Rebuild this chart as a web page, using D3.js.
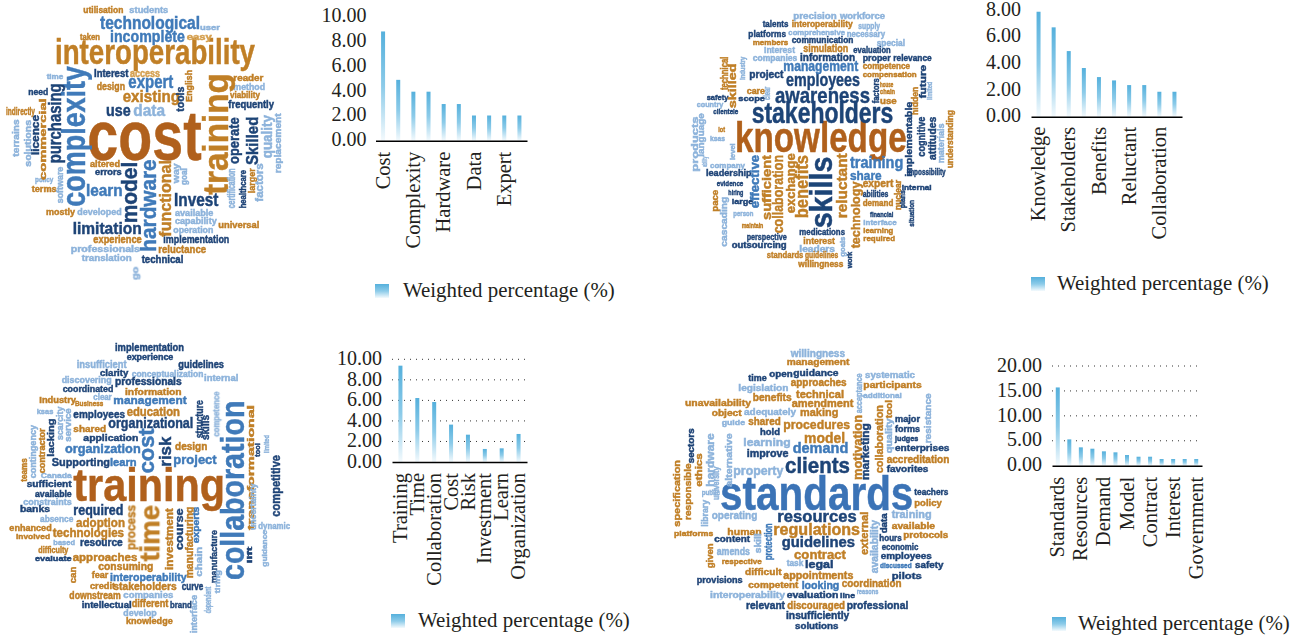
<!DOCTYPE html>
<html>
<head>
<meta charset="utf-8">
<script src="https://cdnjs.cloudflare.com/ajax/libs/d3/7.8.5/d3.min.js"></script>
<style>
  html, body { margin: 0; padding: 0; background: #fff; }
  svg { display: block; }
  .tick text, .legend { font-family: "Liberation Serif", serif; fill: #231f20; }
  .word { font-family: "Liberation Sans Narrow", "Liberation Sans", sans-serif; font-weight: bold; }
</style>
</head>
<body>
<svg width="1303" height="637"></svg>
<script>
// bar chart values
const costCategories = ['Cost', 'Interoperability', 'Complexity', 'Training', 'Hardware', 'Model', 'Data', 'Existing', 'Expert', 'Functional'];
const costValues = [8.76, 4.88, 3.93, 3.93, 2.94, 2.94, 2.02, 2.02, 2.02, 2.02];
const costTicks = [0, 2, 4, 6, 8, 10];

const knowledgeCategories = ['Knowledge', 'Skills', 'Stakeholders', 'Awareness', 'Benefits', 'Employees', 'Reluctant', 'Management', 'Collaboration', 'Technology'];
const knowledgeValues = [7.87, 6.7, 4.92, 3.65, 2.97, 2.72, 2.37, 2.37, 1.87, 1.87];
const knowledgeTicks = [0, 2, 4, 6, 8];

const trainingCategories = ['Training', 'Time', 'Collaboration', 'Cost', 'Risk', 'Investment', 'Learn', 'Organization'];
const trainingValues = [9.38, 6.23, 5.84, 3.64, 2.66, 1.27, 1.33, 2.73];
const trainingTicks = [0, 2, 4, 6, 8, 10];

const standardsCategories = ['Standards', 'Clients', 'Resources', 'Regulations', 'Demand', 'Guidelines', 'Model', 'Procedures', 'Contract', 'Motivation', 'Interest', 'Property', 'Government'];
const standardsValues = [15.7, 5.28, 3.68, 3.41, 2.88, 2.68, 2.14, 1.8, 1.8, 1.34, 1.34, 1.34, 1.34];
const standardsTicks = [0, 5, 10, 15, 20];

// word clouds: [word, weight]
const costWords = [['cost',210],['interoperability',100],['technological',50],['incomplete',45],['utilisation',24],['students',24],['taken',22],['user',20],['easy',22],['Interest',26],['access',26],['design',26],['expert',50],['existing',48],['use',46],['data',46],['need',24],['time',20],['indirectly',26],['altered',24],['errors',22],['learn',46],['Invest',50],['mostly',24],['developed',24],['limitation',48],['experience',26],['professionals',24],['translation',24],['technical',26],['reluctance',26],['implementation',28],['universal',24],['available',22],['capability',22],['operation',22],['terms',22],['policy',20],['reader',22],['method',24],['viability',22],['frequently',26],['complexity',95],['training',105],['purchasing',50],['model',62],['hardware',62],['functional',45],['operate',40],['Skilled',48],['quality',40],['replacement',22],['licence',30],['commercial',24],['terrains',22],['solutions',22],['software',22],['way',24],['goal',22],['English',24],['tools',26],['certification',26],['healthcare',24],['larger',22],['factors',26],['go',22]];
const knowledgeWords = [['knowledge',125],['stakeholders',85],['awareness',65],['employees',50],['management',42],['information',26],['simulation',30],['communication',22],['precision',22],['workforce',22],['talents',22],['interoperability',22],['supply',22],['platforms',24],['comprehensive',20],['necessary',22],['members',20],['special',22],['Interest',24],['evaluation',22],['companies',22],['proper',22],['relevance',22],['competence',22],['compensation',20],['project',26],['care',22],['scope',20],['safety',20],['country',20],['clientele',20],['house',18],['chain',18],['use',22],['training',46],['share',36],['expert',28],['abilities',22],['demand',22],['financial',20],['interface',20],['learning',20],['required',20],['internal',20],['impossibility',22],['company',20],['leadership',24],['evidence',20],['hiring',20],['large',20],['person',18],['maintain',18],['perspective',24],['outsourcing',22],['interest',24],['medications',24],['leaders',22],['standards',24],['guidelines',24],['willingness',22],['lot',18],['ksas',18],['skills',92],['benefits',50],['reluctant',38],['sufficient',36],['collaboration',38],['exchange',32],['effective',32],['technology',36],['technical',26],['skilled',30],['industry',18],['clear',22],['future',24],['hidden',24],['implementable',24],['factors',22],['cognitive',30],['attitudes',26],['understanding',22],['limited',20],['materials',24],['language',22],['products',24],['level',20],['ability',18],['pace',22],['cascading',24],['nuclear',22],['situation',20],['plans',20],['work',18],['goals',18]];
const trainingWords = [['training',135],['collaboration',95],['time',80],['cost',60],['risk',48],['organizational',40],['employees',30],['education',32],['information',24],['management',30],['application',24],['organization',34],['learn',30],['project',36],['Supporting',30],['shared',24],['design',26],['required',38],['adoption',36],['technologies',32],['resource',26],['approaches',30],['consuming',26],['interoperability',30],['stakeholders',28],['credit',24],['fear',24],['downstream',26],['companies',24],['intellectual',24],['different',26],['brand',24],['develop',24],['knowledge',24],['curve',26],['implementation',28],['experience',22],['guidelines',26],['insufficient',26],['clarity',24],['conceptualization',22],['internal',22],['discovering',22],['professionals',26],['coordinated',24],['clear',22],['Industry',22],['Business',20],['ksas',20],['dynamic',22],['enhanced',24],['involved',20],['absence',24],['based',20],['difficulty',22],['evaluate',20],['sufficient',24],['available',22],['constraints',22],['banks',24],['Canada',20],['process',34],['investment',30],['structure',30],['skills',26],['competence',24],['lacking',24],['scarcity',24],['service',22],['contingency',22],['contractor',22],['teams',24],['course',30],['manufacturing',26],['experts',24],['chain',22],['manufacture',24],['tiring',20],['transformational',24],['tool',20],['limited',20],['competitive',34],['uncertainty',22],['guidance',20],['lift',20],['interface',22],['dependent',22],['can',24]];
const standardsWords = [['standards',140],['clients',60],['resources',46],['regulations',44],['guidelines',42],['contract',36],['demand',42],['model',42],['procedures',36],['making',30],['amendment',28],['technical',30],['approaches',26],['guidance',24],['willingness',26],['management',24],['time',22],['open',22],['legislation',24],['benefits',26],['unavailability',24],['object',24],['adequately',24],['guide',20],['shared',26],['hold',24],['learning',28],['improve',26],['property',32],['public',20],['operating',28],['human',24],['content',24],['platforms',20],['amends',26],['respective',20],['difficult',24],['provisions',24],['competent',24],['appointments',26],['legal',26],['task',22],['looking',26],['coordination',28],['interoperability',24],['evaluation',24],['line',20],['reasons',20],['relevant',26],['discouraged',26],['professional',28],['insufficiently',26],['solutions',24],['systematic',24],['participants',24],['additional',20],['major',22],['forms',22],['judges',20],['enterprises',24],['accreditation',26],['favorites',24],['teachers',24],['policy',24],['training',26],['available',22],['protocols',22],['hours',22],['economic',24],['employees',24],['discussed',20],['safety',24],['pilots',24],['motivation',34],['marketing',28],['collaboration',28],['acceptance',24],['tool',24],['quality',22],['resistance',24],['sectors',22],['ethics',22],['responsible',24],['specification',24],['hardware',26],['alternative',24],['library',22],['protection',30],['skill',24],['given',24],['external',30],['availability',26],['data',22],['university',22]];

// hand placement of the words in zoomed picture units: word: [start, end, cross, vertical, colour]
const costPlaces = {cost:[262,605,425,0,'a'],interoperability:[165,765,165,0,'o'],technological:[300,600,72,0,'b'],incomplete:[330,555,113,0,'b'],utilisation:[250,370,33,0,'o'],students:[388,505,33,0,'l'],taken:[240,300,113,0,'o'],user:[600,660,85,0,'l'],easy:[560,635,112,0,'p'],Interest:[282,385,222,0,'n'],access:[390,480,222,0,'p'],design:[290,375,262,0,'o'],expert:[385,520,250,0,'b'],existing:[368,540,293,0,'o'],use:[318,392,335,0,'n'],data:[400,495,335,0,'l'],need:[85,145,277,0,'n'],time:[140,190,230,0,'l'],indirectly:[18,105,337,0,'o'],altered:[270,360,495,0,'o'],errors:[285,365,518,0,'n'],learn:[258,368,575,0,'b'],Invest:[522,655,605,0,'n'],mostly:[138,225,637,0,'o'],developed:[232,365,637,0,'l'],limitation:[218,425,687,0,'n'],experience:[280,425,722,0,'o'],professionals:[212,420,750,0,'l'],translation:[245,395,777,0,'l'],technical:[425,550,782,0,'n'],reluctance:[475,618,752,0,'o'],implementation:[490,688,720,0,'n'],universal:[655,778,676,0,'o'],available:[525,640,640,0,'l'],capability:[525,650,665,0,'l'],operation:[520,640,692,0,'l'],terms:[95,170,568,0,'o'],policy:[105,160,540,0,'l'],reader:[700,790,235,0,'o'],method:[700,795,262,0,'l'],viability:[690,780,287,0,'o'],frequently:[685,822,316,0,'n'],complexity:[198,620,228,1,'b'],training:[220,585,655,1,'o'],purchasing:[250,490,170,1,'n'],model:[485,670,395,1,'n'],hardware:[478,755,450,1,'b'],functional:[480,710,500,1,'o'],operate:[352,492,705,1,'n'],Skilled:[350,495,760,1,'n'],quality:[345,475,805,1,'l'],replacement:[340,520,835,1,'l'],licence:[345,465,108,1,'n'],commercial:[295,540,130,1,'o'],terrains:[358,470,50,1,'l'],solutions:[360,500,85,1,'l'],software:[500,610,182,1,'l'],way:[490,550,530,1,'l'],goal:[505,555,555,1,'l'],English:[210,305,570,1,'o'],tools:[260,335,545,1,'n'],certification:[505,625,697,1,'l'],healthcare:[510,625,732,1,'n'],larger:[505,580,757,1,'o'],factors:[490,605,780,1,'l'],go:[800,840,407,1,'l']};
const knowledgePlaces = {knowledge:[165,680,422,0,'a'],stakeholders:[215,640,347,0,'n'],awareness:[285,570,290,0,'n'],employees:[318,540,243,0,'n'],management:[310,535,200,0,'b'],information:[360,525,175,0,'n'],simulation:[370,505,147,0,'o'],communication:[335,520,122,0,'n'],precision:[340,470,50,0,'l'],workforce:[480,615,50,0,'l'],talents:[248,325,75,0,'n'],interoperability:[335,518,75,0,'o'],supply:[535,600,80,0,'l'],platforms:[205,318,103,0,'n'],comprehensive:[325,495,100,0,'l'],necessary:[500,615,103,0,'l'],members:[218,325,128,0,'o'],special:[590,675,130,0,'l'],Interest:[252,345,153,0,'l'],evaluation:[520,632,153,0,'n'],companies:[218,352,177,0,'l'],proper:[548,632,177,0,'n'],relevance:[640,755,177,0,'n'],competence:[548,690,201,0,'o'],compensation:[548,710,226,0,'o'],project:[208,310,227,0,'n'],care:[200,255,275,0,'o'],scope:[175,255,297,0,'n'],safety:[80,145,295,0,'n'],country:[50,130,316,0,'l'],clientele:[100,175,337,0,'n'],house:[600,640,255,0,'o'],chain:[600,645,277,0,'o'],use:[600,650,305,0,'o'],training:[510,670,492,0,'b'],share:[510,605,530,0,'b'],expert:[548,640,553,0,'o'],abilities:[548,625,585,0,'n'],demand:[548,640,612,0,'o'],financial:[570,640,645,0,'n'],interface:[550,650,668,0,'l'],learning:[550,640,692,0,'o'],required:[550,645,718,0,'o'],internal:[665,755,565,0,'n'],impossibility:[680,797,517,0,'n'],company:[90,195,497,0,'l'],leadership:[78,215,522,0,'n'],evidence:[110,190,552,0,'n'],hiring:[145,190,580,0,'n'],large:[155,220,605,0,'n'],person:[160,220,642,0,'l'],maintain:[185,250,678,0,'o'],perspective:[200,320,713,0,'n'],outsourcing:[155,320,738,0,'n'],interest:[370,465,725,0,'o'],medications:[358,495,697,0,'n'],leaders:[358,465,748,0,'l'],standards:[260,370,768,0,'o'],guidelines:[375,475,768,0,'o'],willingness:[355,490,795,0,'o'],lot:[115,135,390,0,'o'],ksas:[90,135,417,0,'l'],skills:[470,685,432,1,'n'],benefits:[465,655,370,1,'o'],reluctant:[460,655,490,1,'o'],sufficient:[465,660,262,1,'o'],collaboration:[465,700,298,1,'o'],exchange:[460,640,335,1,'o'],effective:[465,625,228,1,'b'],technology:[545,745,530,1,'o'],technical:[170,270,135,1,'o'],skilled:[190,325,160,1,'o'],industry:[170,240,190,1,'l'],clear:[260,300,262,1,'l'],future:[195,295,730,1,'n'],hidden:[260,345,708,1,'o'],implementable:[305,530,690,1,'n'],factors:[235,310,590,1,'n'],cognitive:[350,470,725,1,'n'],attitudes:[350,480,760,1,'n'],understanding:[330,505,812,1,'o'],limited:[245,300,750,1,'l'],materials:[370,490,785,1,'l'],language:[340,470,65,1,'l'],products:[350,515,48,1,'l'],level:[430,480,160,1,'l'],ability:[470,500,75,1,'l'],pace:[570,635,108,1,'o'],cascading:[590,740,135,1,'l'],nuclear:[540,630,655,1,'o'],situation:[600,680,695,1,'n'],plans:[570,625,670,1,'n'],work:[755,805,510,1,'n'],goals:[710,770,490,1,'l']};
const trainingPlaces = {training:[220,675,478,0,'a'],collaboration:[212,750,705,1,'b'],time:[525,695,455,1,'o'],cost:[295,430,445,1,'b'],risk:[320,410,500,1,'n'],organizational:[325,580,282,0,'n'],employees:[220,375,255,0,'n'],education:[380,540,248,0,'o'],information:[375,545,188,0,'o'],management:[340,560,213,0,'b'],application:[250,415,326,0,'n'],organization:[195,422,358,0,'b'],learn:[330,410,398,0,'b'],project:[520,650,392,0,'b'],Supporting:[155,330,400,0,'n'],shared:[220,318,300,0,'o'],design:[525,622,353,0,'o'],required:[220,370,543,0,'n'],adoption:[228,375,580,0,'o'],technologies:[158,372,612,0,'o'],resource:[240,368,640,0,'n'],approaches:[218,412,683,0,'o'],consuming:[295,460,713,0,'o'],interoperability:[330,560,743,0,'b'],stakeholders:[340,530,772,0,'o'],credit:[270,345,770,0,'o'],fear:[275,325,737,0,'o'],downstream:[208,362,798,0,'o'],companies:[370,520,798,0,'l'],intellectual:[245,395,826,0,'n'],different:[395,505,824,0,'o'],brand:[510,575,826,0,'n'],develop:[370,470,850,0,'l'],knowledge:[378,518,875,0,'o'],curve:[545,610,771,0,'n'],implementation:[345,552,55,0,'n'],experience:[380,520,82,0,'n'],guidelines:[535,672,107,0,'n'],insufficient:[230,380,107,0,'l'],clarity:[300,385,130,0,'n'],conceptualization:[395,610,133,0,'l'],internal:[612,715,145,0,'l'],discovering:[185,335,153,0,'l'],professionals:[345,545,158,0,'n'],coordinated:[188,340,178,0,'n'],clear:[280,335,203,0,'l'],Industry:[118,228,213,0,'o'],Business:[225,310,222,0,'o'],ksas:[110,160,247,0,'l'],dynamic:[775,870,590,0,'l'],enhanced:[28,155,597,0,'o'],involved:[48,150,620,0,'o'],absence:[120,220,570,0,'l'],based:[160,225,638,0,'l'],difficulty:[115,205,663,0,'o'],evaluate:[105,215,687,0,'n'],sufficient:[80,215,465,0,'n'],available:[105,215,493,0,'n'],constraints:[70,215,518,0,'l'],banks:[60,150,538,0,'n'],Canada:[122,215,437,0,'l'],process:[525,660,395,1,'o'],investment:[535,720,510,1,'o'],structure:[210,325,600,1,'n'],skills:[255,330,620,1,'n'],competence:[185,320,650,1,'l'],lacking:[265,380,155,1,'n'],scarcity:[230,330,182,1,'l'],service:[235,335,205,1,'l'],contingency:[285,445,100,1,'l'],contractor:[295,430,128,1,'o'],teams:[385,455,75,1,'o'],course:[535,660,540,1,'n'],manufacturing:[530,745,572,1,'o'],experts:[530,640,590,1,'b'],chain:[650,740,600,1,'l'],manufacture:[600,760,645,1,'n'],tiring:[720,790,655,1,'l'],transformational:[225,600,755,1,'o'],tool:[340,380,775,1,'n'],limited:[315,370,800,1,'l'],competitive:[375,560,830,1,'n'],uncertainty:[460,600,760,1,'l'],guidance:[600,710,795,1,'l'],lift:[650,700,750,1,'n'],interface:[795,910,585,1,'l'],dependent:[770,850,625,1,'l'],can:[710,760,222,1,'o']};
const standardsPlaces = {standards:[150,730,503,0,'s'],clients:[345,540,412,0,'n'],resources:[322,560,562,0,'n'],regulations:[310,570,603,0,'o'],guidelines:[335,555,640,0,'n'],contract:[372,528,678,0,'o'],demand:[368,535,358,0,'b'],model:[402,525,328,0,'o'],procedures:[340,540,287,0,'o'],making:[390,505,250,0,'o'],amendment:[365,550,222,0,'o'],technical:[378,522,195,0,'o'],approaches:[362,530,160,0,'o'],guidance:[370,505,130,0,'n'],willingness:[362,525,73,0,'l'],management:[350,538,98,0,'o'],time:[235,290,145,0,'n'],open:[298,368,133,0,'n'],legislation:[205,355,175,0,'l'],benefits:[248,365,205,0,'o'],unavailability:[45,243,222,0,'o'],object:[125,215,250,0,'o'],adequately:[222,378,247,0,'l'],guide:[155,225,280,0,'l'],shared:[235,332,278,0,'o'],hold:[270,330,308,0,'n'],learning:[220,362,340,0,'l'],improve:[230,355,374,0,'n'],property:[190,340,427,0,'l'],public:[95,150,490,0,'l'],operating:[125,262,558,0,'l'],human:[172,275,607,0,'o'],content:[133,240,630,0,'n'],platforms:[12,130,612,0,'o'],amends:[140,240,667,0,'l'],respective:[155,275,697,0,'o'],difficult:[225,335,727,0,'o'],provisions:[80,218,752,0,'n'],competent:[235,385,768,0,'o'],appointments:[340,550,740,0,'o'],legal:[405,490,705,0,'n'],task:[350,400,702,0,'l'],looking:[395,508,768,0,'b'],coordination:[515,695,763,0,'o'],interoperability:[120,345,798,0,'l'],evaluation:[350,505,798,0,'n'],line:[510,555,797,0,'n'],reasons:[560,625,787,0,'l'],relevant:[228,345,829,0,'n'],discouraged:[352,525,829,0,'o'],professional:[530,715,829,0,'n'],insufficiently:[348,538,860,0,'n'],solutions:[375,505,890,0,'n'],systematic:[585,735,137,0,'l'],participants:[580,755,167,0,'o'],additional:[580,695,198,0,'l'],major:[675,750,270,0,'n'],forms:[675,750,300,0,'n'],judges:[675,745,328,0,'n'],enterprises:[675,838,357,0,'n'],accreditation:[650,838,390,0,'o'],favorites:[650,775,420,0,'n'],teachers:[733,835,487,0,'n'],policy:[733,815,520,0,'o'],training:[665,785,557,0,'l'],available:[665,795,590,0,'o'],protocols:[700,835,617,0,'o'],hours:[628,695,625,0,'n'],economic:[635,745,652,0,'n'],employees:[632,785,680,0,'n'],discussed:[630,725,708,0,'b'],safety:[735,820,708,0,'n'],pilots:[665,755,740,0,'n'],motivation:[255,450,565,1,'o'],marketing:[280,450,590,1,'n'],collaboration:[225,430,630,1,'o'],acceptance:[130,250,568,1,'l'],tool:[210,265,660,1,'o'],quality:[265,370,660,1,'l'],resistance:[190,340,777,1,'l'],sectors:[295,400,65,1,'n'],ethics:[370,470,90,1,'o'],responsible:[400,570,55,1,'o'],specification:[390,590,22,1,'o'],hardware:[310,470,125,1,'l'],alternative:[310,470,178,1,'l'],library:[510,590,108,1,'l'],protection:[580,690,298,1,'b'],skill:[610,670,265,1,'l'],given:[640,715,122,1,'o'],external:[545,675,585,1,'o'],availability:[570,730,615,1,'l'],data:[550,610,645,1,'n'],university:[410,510,140,1,'l']};

const colours = {a: '#b0601b', o: '#c07f26', p: '#d5a050', n: '#1f4477', b: '#3f7ab9', s: '#3a73b6', l: '#8db3db'};

const svg = d3.select('svg');
const defs = svg.append('defs');

const fade = defs.append('linearGradient')
    .attr('id', 'fade')
    .attr('x1', 0).attr('y1', 0).attr('x2', 0).attr('y2', 1);
fade.append('stop').attr('offset', '0%').attr('stop-color', '#55b0dc');
fade.append('stop').attr('offset', '50%').attr('stop-color', '#8ccbe9');
fade.append('stop').attr('offset', '100%').attr('stop-color', '#f4fafd');

// the clouds in the source picture are soft, low resolution images
defs.append('filter')
    .attr('id', 'soft')
    .attr('x', '-5%').attr('y', '-5%').attr('width', '110%').attr('height', '110%')
  .append('feGaussianBlur')
    .attr('stdDeviation', 1.5);

// weight to font size, small words are still readable blocks in the source
const wordSize = d3.scaleLinear().domain([18, 60, 210]).range([22, 64, 210]);

function drawCloud(words, places, ox, oy){
    const g = svg.append('g')
        .attr('transform', `translate(${ox},${oy}) scale(${1/3})`)
        .attr('filter', 'url(#soft)');

    g.selectAll('text')
        .data(words)
        .join('text')
        .attr('class', 'word')
        .attr('text-anchor', 'middle')
        .attr('font-size', d => wordSize(d[1]))
        .attr('fill', d => colours[places[d[0]][4]])
        .attr('stroke', d => colours[places[d[0]][4]])
        .attr('stroke-width', 1.4)
        .attr('y', d => wordSize(d[1]) * 0.26)
        .attr('textLength', d => places[d[0]][1] - places[d[0]][0])
        .attr('lengthAdjust', 'spacingAndGlyphs')
        .attr('transform', d => {
            const p = places[d[0]];
            const mid = (p[0] + p[1]) / 2;
            return p[3] ? `translate(${p[2]},${mid}) rotate(-90)` : `translate(${mid},${p[2]})`;
        })
        .text(d => d[0]);
}

function drawBars(categories, values, ticks, box, grid, legend){
    const inner = 1 - 4 / ((box.right - box.left) / categories.length);
    const x = d3.scaleBand()
        .domain(categories)
        .range([box.left, box.right])
        .paddingInner(inner)
        .paddingOuter(inner / 2);
    const y = d3.scaleLinear()
        .domain([0, d3.max(ticks)])
        .range([box.bottom, box.top]);

    if(grid){
        svg.append('g')
            .selectAll('line')
            .data(ticks.slice(1))
            .join('line')
            .attr('x1', box.left)
            .attr('x2', box.right)
            .attr('y1', d => y(d))
            .attr('y2', d => y(d))
            .attr('stroke', '#333')
            .attr('stroke-width', 1)
            .attr('stroke-dasharray', '1,5');
    }

    svg.append('g')
        .selectAll('rect')
        .data(values)
        .join('rect')
        .attr('x', (d, i) => x(categories[i]))
        .attr('y', d => y(d))
        .attr('width', x.bandwidth())
        .attr('height', d => y(0) - y(d))
        .attr('fill', 'url(#fade)');

    const yAxis = svg.append('g')
        .attr('transform', `translate(${box.left},0)`)
        .call(d3.axisLeft(y).tickValues(ticks).tickSize(0).tickPadding(box.pad).tickFormat(d3.format('.2f')));
    yAxis.select('.domain').remove();
    yAxis.selectAll('text')
        .attr('font-size', 20)
        .attr('dy', '0.26em');

    const xAxis = svg.append('g')
        .attr('transform', `translate(0,${box.bottom})`)
        .call(d3.axisBottom(x)
            .tickValues(categories.filter((d, i) => i % box.every === 0))
            .tickSize(0));
    xAxis.select('.domain')
        .attr('stroke', '#000')
        .attr('stroke-width', 1.5);
    xAxis.selectAll('text')
        .attr('font-size', 20.5)
        .attr('text-anchor', 'end')
        .attr('transform', 'rotate(-90)')
        .attr('x', -box.gap)
        .attr('y', 0)
        .attr('dy', '0.32em');

    const key = svg.append('g').attr('transform', `translate(${legend.x},${legend.y})`);
    key.append('rect')
        .attr('width', 14)
        .attr('height', 14)
        .attr('fill', 'url(#fade)');
    key.append('text')
        .attr('class', 'legend')
        .attr('x', legend.dx)
        .attr('y', 13)
        .attr('font-size', 20.9)
        .text('Weighted percentage (%)');
}

drawCloud(costWords, costPlaces, 0, 0);
drawCloud(knowledgeWords, knowledgePlaces, 680, 0);
drawCloud(trainingWords, trainingPlaces, 0, 330);
drawCloud(standardsWords, standardsPlaces, 670, 330);

drawBars(costCategories, costValues, costTicks,
    {left: 375.5, right: 527, top: 16, bottom: 140.7, pad: 9, gap: 11, every: 2}, false, {x: 375, y: 284, dx: 28});
drawBars(knowledgeCategories, knowledgeValues, knowledgeTicks,
    {left: 1031, right: 1182, top: 10, bottom: 116.7, pad: 10, gap: 10, every: 2}, false, {x: 1031, y: 277, dx: 26});
drawBars(trainingCategories, trainingValues, trainingTicks,
    {left: 392, right: 527, top: 359.3, bottom: 462, pad: 10, gap: 11, every: 1}, true, {x: 391, y: 614, dx: 27});
drawBars(standardsCategories, standardsValues, standardsTicks,
    {left: 1052, right: 1202, top: 366, bottom: 465.7, pad: 10, gap: 11, every: 2}, true, {x: 1052, y: 617, dx: 26});
</script>
</body>
</html>
